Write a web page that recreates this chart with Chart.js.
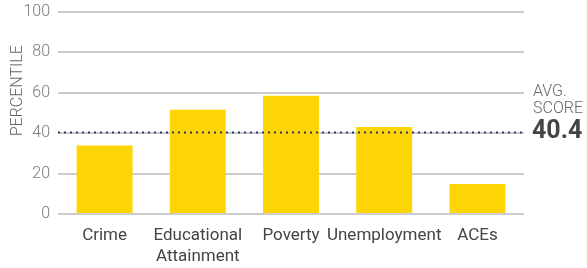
<!DOCTYPE html>
<html>
<head>
    <title>Percentile</title>
    <script src="https://cdn.jsdelivr.net/npm/chart.js"></script>
    <style>
        body { margin: 0; background: #fff; }
        .chart-container { width: 587px; height: 268px; }
    </style>
</head>
<body>
    <div class="chart-container">
        <canvas id="percentileChart"></canvas>
    </div>
    <script>
var categories = ['Crime', ['Educational', 'Attainment'], 'Poverty', 'Unemployment', 'ACEs'];
var percentiles = [33.9, 51.6, 58.6, 43.1, 14.9];
var avgScore = 40.4;
var yTicks = [0, 20, 40, 60, 80, 100];
var yTitle = 'PERCENTILE';

// dotted average line + labels drawn outside the plot
var avgLinePlugin = {
    id: 'avgLine',
    afterDatasetsDraw: function(chart) {
        var ctx = chart.ctx;
        var area = chart.chartArea;
        var y = chart.scales.y.getPixelForValue(avgScore);
        ctx.save();
        ctx.strokeStyle = '#2e3a6e';
        ctx.lineWidth = 2;
        ctx.setLineDash([2, 4]);
        ctx.beginPath();
        ctx.moveTo(area.left, y);
        ctx.lineTo(area.right, y);
        ctx.stroke();
        ctx.setLineDash([]);
        ctx.textAlign = 'left';
        ctx.textBaseline = 'middle';
        ctx.fillStyle = '#666';
        ctx.font = '300 16px Roboto';
        ctx.fillText('AVG.', area.right + 9, y - 40);
        ctx.fillText('SCORE', area.right + 9, y - 23);
        ctx.fillStyle = '#444';
        ctx.font = 'bold 25px Roboto';
        ctx.fillText(avgScore.toFixed(1), area.right + 8, y - 1);

        // axis title sits a bit above the middle in the original
        ctx.translate(18, chart.scales.y.getPixelForValue(61));
        ctx.rotate(-Math.PI / 2);
        ctx.textAlign = 'center';
        ctx.fillStyle = '#666';
        ctx.font = '300 16px Roboto';
        ctx.fillText(yTitle, 0, 0);
        ctx.restore();
    }
};

new Chart(document.getElementById('percentileChart'), {
    type: 'bar',
    data: {
        labels: categories,
        datasets: [{
            data: percentiles,
            backgroundColor: '#fdd505',
            barPercentage: 0.6,
            categoryPercentage: 1
        }]
    },
    options: {
        responsive: true,
        maintainAspectRatio: false,
        animation: false,
        layout: { padding: { top: 0, right: 63, left: 7, bottom: 0 } },
        plugins: {
            legend: { display: false },
            tooltip: { enabled: false }
        },
        scales: {
            x: {
                afterFit: function(axis) { axis.height = 54; },
                grid: { display: false, drawTicks: false },
                border: { display: false },
                ticks: {
                    color: '#444',
                    font: { family: 'Roboto', size: 17, lineHeight: 1.25 },
                    padding: 11,
                    maxRotation: 0,
                    autoSkip: false
                }
            },
            y: {
                min: 0,
                max: 100,
                afterFit: function(axis) {
                    axis.width = 51;
                    axis.paddingTop = 12;
                    axis.paddingBottom = 0;
                },
                afterBuildTicks: function(axis) {
                    axis.ticks = yTicks.map(function(v) { return { value: v }; });
                },
                grid: { color: '#cccccc', lineWidth: 2, drawTicks: false },
                border: { display: false },
                ticks: {
                    color: '#7a7a7a',
                    font: { family: 'Roboto', size: 16, weight: '300' },
                    padding: 8
                }
            }
        }
    },
    plugins: [avgLinePlugin]
});
    </script>
</body>
</html>
